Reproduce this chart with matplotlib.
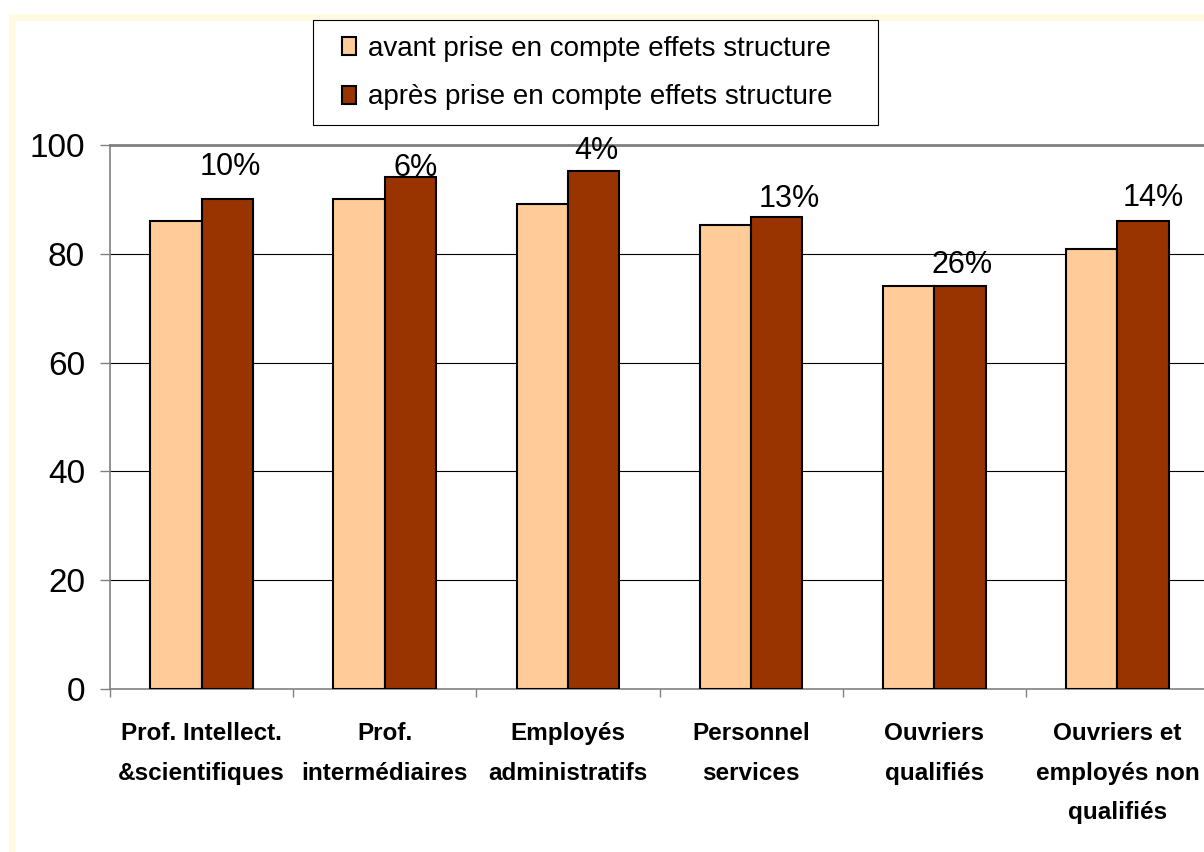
import matplotlib.pyplot as plt
import numpy as np
from matplotlib.patches import Rectangle, Patch

# data
categories = ["Prof. Intellect.\n&scientifiques", "Prof.\nintermédiaires",
              "Employés\nadministratifs", "Personnel\nservices",
              "Ouvriers\nqualifiés", "Ouvriers et\nemployés non\nqualifiés"]
avant = [86.1, 90.0, 89.2, 85.3, 74.1, 80.9]
apres = [90.0, 94.1, 95.2, 86.8, 74.1, 86.1]
ecarts = ["10%", "6%", "4%", "13%", "26%", "14%"]
series_names = ["avant prise en compte effets structure",
                "après prise en compte effets structure"]

# label nudges in pixels (as placed in the original)
label_dx = [3, 5, 3, 13, 2, 10]
label_dy = [32, 9, 20, 18, 21, 23]

light = "#FFCC99"
dark = "#993300"
grey = "#808080"

plt.rcParams['font.family'] = ['Liberation Sans', 'DejaVu Sans']

W, H = 1204, 852
fig = plt.figure(figsize=(W / 100, H / 100), dpi=100)
fig.patch.set_facecolor("white")

# pale yellow frame round the chart area
fig.patches.append(Rectangle((12 / W, -0.2), 1.2, 1.2 - 16.5 / H,
                             transform=fig.transFigure, fill=False,
                             edgecolor="#FFFBE3", linewidth=5))

ax = fig.add_axes([110 / W, 1 - 689 / H, 1099 / W, 544 / H])

x = np.arange(len(categories))
w = 0.28
ax.bar(x - w / 2, avant, w, color=light, edgecolor="black", linewidth=1.5, zorder=3)
ax.bar(x + w / 2, apres, w, color=dark, edgecolor="black", linewidth=1.5, zorder=3)

for i, (v, t) in enumerate(zip(apres, ecarts)):
    ax.annotate(t, (x[i] + w / 2, v), xytext=(label_dx[i], label_dy[i]),
                textcoords="offset pixels", ha="center", va="center",
                fontsize=22, zorder=4)

ax.set_xlim(-0.5, len(categories) - 0.5)
ax.set_ylim(0, 100)
ax.set_yticks([0, 20, 40, 60, 80, 100])
ax.tick_params(axis="y", labelsize=24, length=7, width=1, color=grey, pad=11)
ax.set_xticks(x)
ax.set_xticklabels(categories, fontsize=17.5, fontweight="bold", linespacing=1.9)
ax.tick_params(axis="x", length=0, pad=24)
ax.set_xticks(np.arange(len(categories) + 1) - 0.5, minor=True)
ax.tick_params(axis="x", which="minor", length=6, width=1, color=grey)

for yv in [20, 40, 60, 80]:
    ax.axhline(yv, color="black", linewidth=0.8, zorder=1)

for s in ["left", "bottom", "top"]:
    ax.spines[s].set_color(grey)
ax.spines["left"].set_linewidth(1.2)
ax.spines["bottom"].set_linewidth(1.2)
ax.spines["top"].set_linewidth(2)
ax.spines["right"].set_visible(False)

# legend box drawn on its own, entries placed inside it
fig.patches.append(Rectangle((313 / W, 1 - 125 / H), 565 / W, 105 / H,
                             transform=fig.transFigure, facecolor="white",
                             edgecolor="black", linewidth=0.8))
handles = [Patch(facecolor=light, edgecolor="black", linewidth=1.5),
           Patch(facecolor=dark, edgecolor="black", linewidth=1.5)]
leg = fig.legend(handles, series_names, loc="upper left",
                 bbox_to_anchor=(342 / W, 1 - 36 / H), fontsize=20,
                 frameon=False, handlelength=0.5, handleheight=0.62,
                 handletextpad=0.43, labelspacing=0.81, borderpad=0,
                 borderaxespad=0)

fig.savefig("out.png", dpi=100)
